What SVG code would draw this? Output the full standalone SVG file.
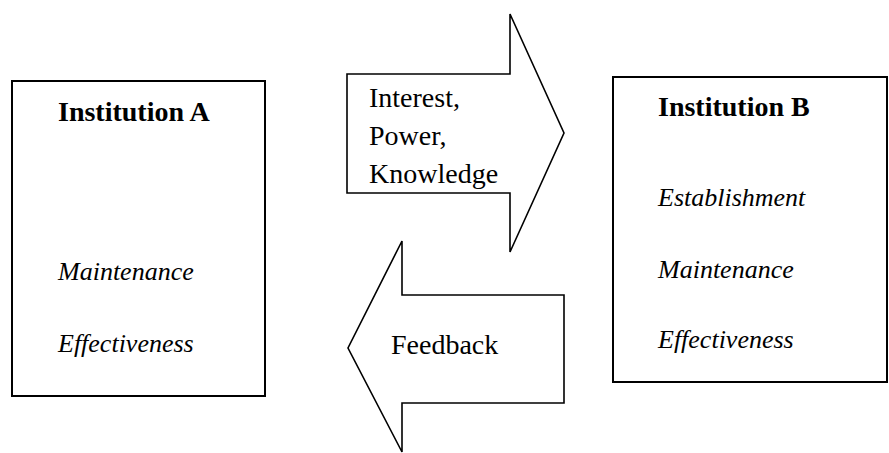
<svg xmlns="http://www.w3.org/2000/svg" width="889" height="453" viewBox="0 0 889 453">
<style>
.box{fill:#fff;stroke:#000;stroke-width:2}
.arr{fill:#fff;stroke:#000;stroke-width:1.6;stroke-linejoin:miter}
.t{font-family:"Liberation Serif","Times New Roman",serif;fill:#000}
.h{font-size:28px;font-weight:bold}
.i{font-size:26px;font-style:italic}
.r{font-size:28px}
</style>
<rect width="889" height="453" fill="#fff"/>
<g id="institution-a">
<rect class="box" x="12" y="81" width="253" height="315"/>
<text class="t h" x="58" y="121">Institution A</text>
<text class="t i" x="58" y="280">Maintenance</text>
<text class="t i" x="58" y="352">Effectiveness</text>
</g>
<g id="institution-b">
<rect class="box" x="613" y="77" width="274" height="305"/>
<text class="t h" x="658" y="116">Institution B</text>
<text class="t i" x="658" y="206">Establishment</text>
<text class="t i" x="658" y="278">Maintenance</text>
<text class="t i" x="658" y="348">Effectiveness</text>
</g>
<g id="connectors">
<g id="arrow-forward">
<polygon class="arr" points="347,74 510,74 510,14 564,133 510,252 510,193 347,193"/>
<text class="t r" x="369" y="107">Interest,</text>
<text class="t r" x="369" y="145">Power,</text>
<text class="t r" x="369" y="183">Knowledge</text>
</g>
<g id="arrow-feedback">
<polygon class="arr" points="564,295 402,295 402,241 348,348 402,452 402,403 564,403"/>
<text class="t r" x="391" y="354">Feedback</text>
</g>
</g>
</svg>
